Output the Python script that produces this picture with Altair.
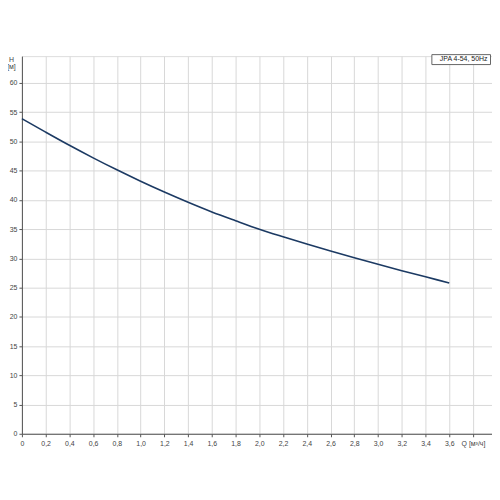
import altair as alt
import pandas as pd

q = [0.0, 0.2, 0.4, 0.6, 0.8, 1.0, 1.2, 1.4, 1.6, 1.8, 2.0, 2.2, 2.4, 2.6, 2.8, 3.0, 3.2, 3.4, 3.6]
h = [53.9, 51.6, 49.35, 47.2, 45.15, 43.2, 41.35, 39.6, 37.95, 36.45, 35.0,
     33.7, 32.45, 31.25, 30.1, 28.98, 27.9, 26.85, 25.8]
series = ["JPA 4-54, 50Hz"] * len(q)

x_ticks = [round(i * 0.2, 1) for i in range(20)]
y_ticks = list(range(0, 65, 5))

df = pd.DataFrame({"Q": q, "H": h, "s": series})

label_expr = ("datum.value > 3.75 ? 'Q [м³/ч]\u00a0\u00a0\u00a0\u00a0\u00a0' : (datum.value == 0 ? '0' : "
              "replace(format(datum.value, '.1f'), '.', ','))")

chart = alt.Chart(df).mark_line(strokeWidth=1.6, interpolate="monotone").encode(
    x=alt.X("Q:Q", scale=alt.Scale(domain=[0, 3.96], nice=False, zero=False),
            axis=alt.Axis(values=x_ticks, labelExpr=label_expr, title=None,
                          tickSize=3, labelPadding=3, labelFontSize=7,
                          labelColor="#444", domainColor="#555", tickColor="#555",
                          gridColor="#d8d8d8", labelFlush=False)),
    y=alt.Y("H:Q", scale=alt.Scale(domain=[0, 64.6], nice=False),
            axis=alt.Axis(values=y_ticks, title=["H", "[м]"], titleAngle=0,
                          titleX=-11, titleY=-1, titleAlign="center", titleBaseline="top",
                          titleFontSize=7, titleFontWeight="normal", titleColor="#444",
                          titleLineHeight=7,
                          tickSize=3, labelPadding=2, labelFontSize=7,
                          labelColor="#444", domainColor="#555", tickColor="#555",
                          gridColor="#d8d8d8")),
    color=alt.Color("s:N", scale=alt.Scale(range=["#1c3a63"]),
                    legend=alt.Legend(title=None, orient="none", legendX=412, legendY=-2,
                                      symbolSize=0, symbolStrokeWidth=0, symbolOpacity=0,
                                      labelOffset=0, padding=1.5, strokeColor="#666",
                                      fillColor="white", labelFontSize=7,
                                      labelColor="#222", cornerRadius=0)),
).properties(
    width=473, height=380,
    autosize=alt.AutoSizeParams(type="none"),
    padding={"left": 14, "top": 47, "right": 0, "bottom": 30},
).configure_view(stroke=None).configure(font="Liberation Sans")

chart.save("out.html", embed_options={"renderer": "svg", "actions": False})
